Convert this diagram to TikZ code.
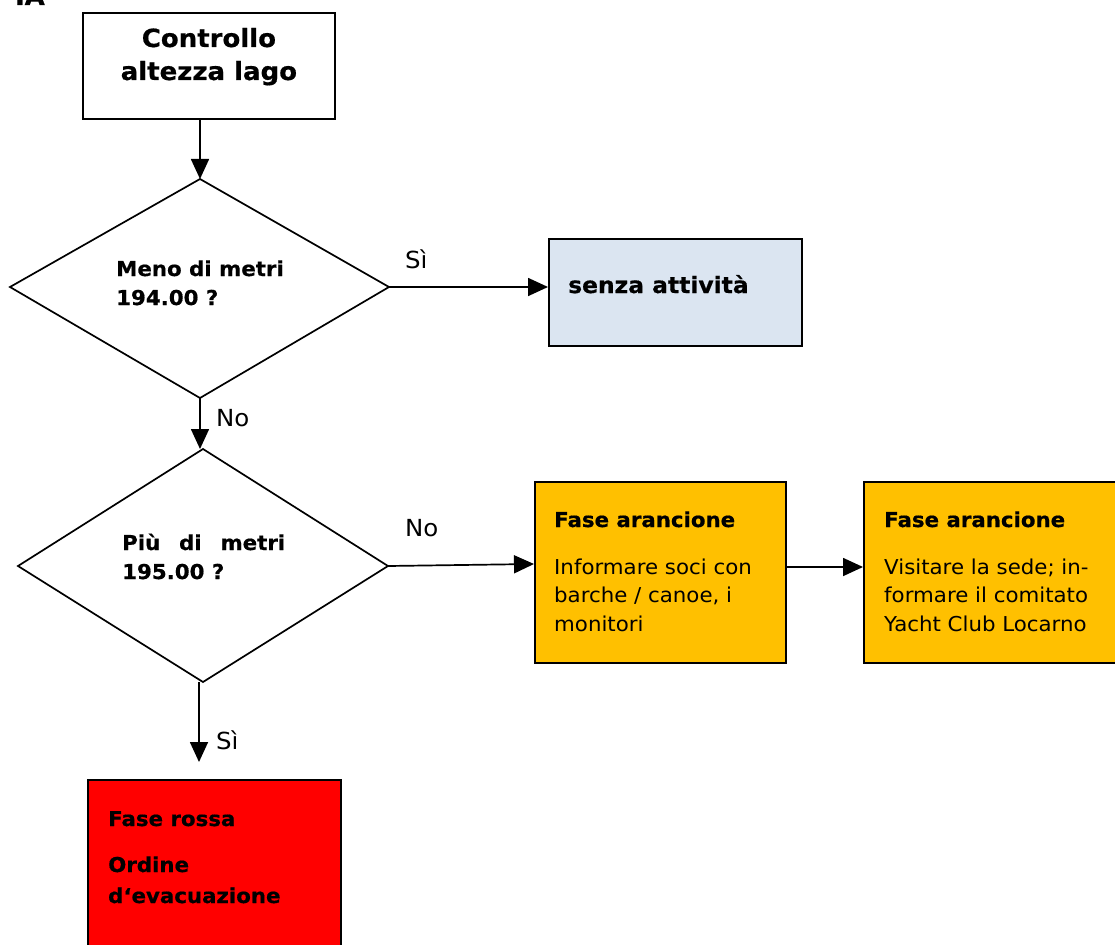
\documentclass[tikz,border=0pt]{standalone}
\usepackage{fontspec}
\setmainfont{DejaVu Sans}[FakeStretch=1.04, BoldFeatures={FakeBold=0.6}]
\usetikzlibrary{arrows.meta,calc}
\definecolor{paleblue}{HTML}{DBE5F1}
\definecolor{amber}{HTML}{FFC000}
\definecolor{alarm}{HTML}{FF0000}
\tikzset{
  procbox/.style={draw=black, line width=1.8pt, rectangle, inner sep=0pt, anchor=north west},
  decision/.style={draw=black, line width=1.7pt, line join=miter},
  conn/.style={line width=1.7pt, -{Triangle[length=20pt,width=18pt]}},
  txt/.style={inner sep=0pt, anchor=base west, font=\fontsize{20.5}{25}\selectfont},
  btxt/.style={inner sep=0pt, anchor=base west, font=\bfseries\fontsize{20.5}{25}\selectfont},
  lbl/.style={inner sep=0pt, anchor=base west, font=\fontsize{23.5}{28}\selectfont},
}
\begin{document}
\begin{tikzpicture}[x=1pt,y=-1pt]
\useasboundingbox (0,0) rectangle (1115,944);
\clip (0,0) rectangle (1115,944);
% clipped heading fragment
\node[inner sep=0pt, anchor=base east, font=\bfseries\fontsize{25}{30}\selectfont] (head) at (45,5) {IA};
% start box
\node[procbox, minimum width=252pt, minimum height=106pt] (start) at (82,12) {};
\node[inner sep=0pt, anchor=base, font=\bfseries\fontsize{25}{30}\selectfont] (startA) at ($(start.north)+(0,35)$) {Controllo};
\node[inner sep=0pt, anchor=base, font=\bfseries\fontsize{25}{30}\selectfont] (startB) at ($(start.north)+(0,68)$) {altezza lago};
% decision 1
\draw[decision] (200,179) coordinate (d1n) -- (389,287) coordinate (d1e) -- (200,398) coordinate (d1s) -- (10,287) coordinate (d1w) -- cycle;
\node[btxt] (d1a) at (116,276) {Meno di metri};
\node[btxt] (d1b) at (116,305) {194.00 ?};
% no activity box
\node[procbox, fill=paleblue, minimum width=253pt, minimum height=107pt] (calm) at (548,238) {};
\node[btxt, font=\bfseries\fontsize{22.5}{27}\selectfont] (calmT) at (568,293) {senza attività};
% decision 2
\draw[decision] (203,449) coordinate (d2n) -- (388,566) coordinate (d2e) -- (203,682) coordinate (d2s) -- (18,566) coordinate (d2w) -- cycle;
\node[btxt] (d2a) at (122,550) {\hbox to 163pt{Più\hfil di\hfil metri}};
\node[btxt] (d2b) at (122,579) {195.00 ?};
% orange boxes
\node[procbox, fill=amber, minimum width=251pt, minimum height=181pt] (or1) at (534,481) {};
\node[btxt] (or1T) at (554,527) {Fase arancione};
\node[txt] (or1a) at (554,574) {Informare soci con};
\node[txt] (or1b) at (554,602.5) {barche / canoe, i};
\node[txt] (or1c) at (554,631) {monitori};
\node[procbox, fill=amber, minimum width=260pt, minimum height=181pt] (or2) at (863,481) {};
\node[btxt] (or2T) at (884,527) {Fase arancione};
\node[txt] (or2a) at (884,574) {Visitare la sede; in-};
\node[txt] (or2b) at (884,602.5) {formare il comitato};
\node[txt] (or2c) at (884,631) {Yacht Club Locarno};
% red box
\node[procbox, fill=alarm, minimum width=253pt, minimum height=180pt] (red) at (87,779) {};
\node[btxt] (redT) at (108,826) {Fase rossa};
\node[btxt] (redA) at (108,872) {Ordine};
\node[btxt] (redB) at (108,903) {d‘evacuazione};
\coordinate (redtip) at (199,762);
% connectors
\draw[conn] (start.south -| d1n) -- (d1n);
\draw[conn] (d1e) -- (calm.west |- d1e);
\draw[conn] (d1s) -- (d2n -| d1s);
\draw[conn] (d2e) -- (or1.west |- 0,564);
\draw[conn] (or1.east |- 0,567) -- (or2.west |- 0,567);
\draw[conn] (d2s -| redtip) -- (redtip);
% labels
\node[lbl] (ly1) at (405,268) {Sì};
\node[lbl] (ln1) at (216,426) {No};
\node[lbl] (ln2) at (405,536) {No};
\node[lbl] (ly2) at (216,749) {Sì};
\end{tikzpicture}
\end{document}
